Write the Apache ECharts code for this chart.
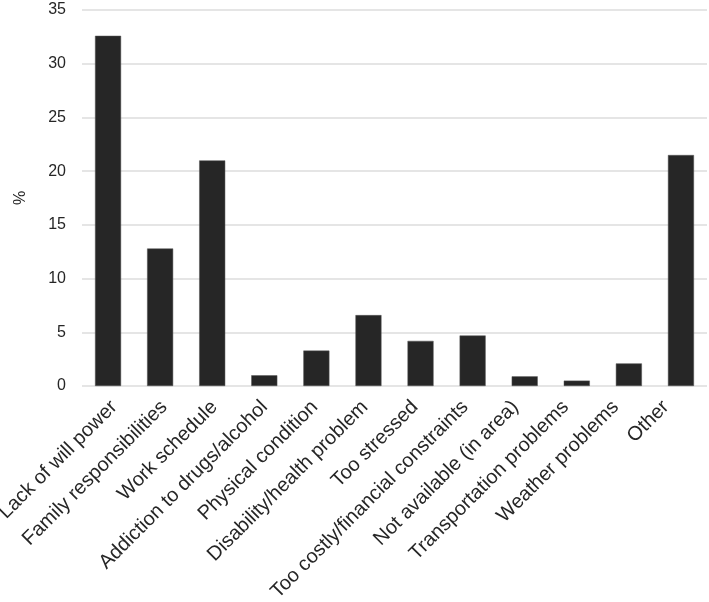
<!DOCTYPE html>
<html><head><meta charset="utf-8">
<script src="https://cdn.jsdelivr.net/npm/echarts@6/dist/echarts.min.js"></script>
<style>html,body{margin:0;padding:0;background:#fff}#c{width:709px;height:602px}</style>
</head><body><div id="c"></div>
<script>
var categories = ["Lack of will power","Family responsibilities","Work schedule","Addiction to drugs/alcohol","Physical condition","Disability/health problem","Too stressed","Too costly/financial constraints","Not available (in area)","Transportation problems","Weather problems","Other"];
var values = [32.6, 12.8, 21.0, 1.0, 3.3, 6.6, 4.2, 4.7, 0.9, 0.5, 2.1, 21.5];
var yTicks = [0, 5, 10, 15, 20, 25, 30, 35];

var font = 'Liberation Sans';
var chart = echarts.init(document.getElementById('c'));
chart.setOption({
  animation: false,
  grid: [
    {left: 82, right: 2, top: 10, bottom: 216, containLabel: false, outerBoundsMode: 'none'},
    {left: 89, right: 18, top: 10, bottom: 216, containLabel: false, outerBoundsMode: 'none'}
  ],
  xAxis: [{
    type: 'category', data: categories, gridIndex: 0,
    axisLine: {show: false}, axisTick: {show: false}, axisLabel: {show: false}
  }, {
    type: 'category', data: categories, gridIndex: 1,
    axisLine: {show: false}, axisTick: {show: false}, splitLine: {show: false},
    axisLabel: {rotate: 45, interval: 0, margin: 18, fontFamily: font, fontSize: 20, color: '#262626'}
  }],
  yAxis: [{
    type: 'value', gridIndex: 0, min: yTicks[0], max: yTicks[yTicks.length-1], interval: 5,
    name: '%', nameLocation: 'middle', nameGap: 53, nameRotate: 90,
    nameTextStyle: {fontFamily: font, fontSize: 16, color: '#262626'},
    axisLine: {show: false}, axisTick: {show: false},
    axisLabel: {margin: 16, fontFamily: font, fontSize: 16, color: '#262626'},
    splitLine: {lineStyle: {color: '#dcdcdc', width: 1.5}}
  }, {
    type: 'value', gridIndex: 1, min: yTicks[0], max: yTicks[yTicks.length-1], show: false
  }],
  series: [{
    type: 'bar', data: values, barWidth: '50%', xAxisIndex: 0, yAxisIndex: 0,
    itemStyle: {color: '#262626', borderColor: '#555', borderWidth: 0.5}
  }]
});
</script></body></html>
